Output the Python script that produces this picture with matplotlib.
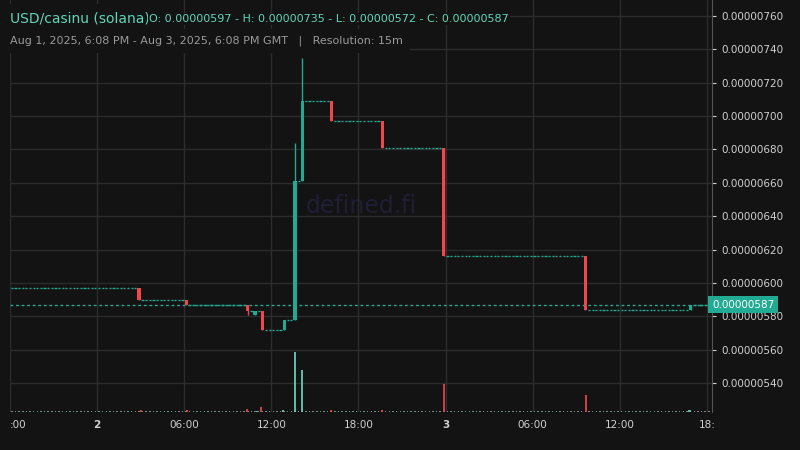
import matplotlib.pyplot as plt
import numpy as np

# hours relative to Aug 2, 00:00 GMT ; prices in units of 1e-8
ev_time = [3.0, 6.2, 10.3, 11.0, 11.3, 12.8, 13.6, 14.1, 16.1, 19.6, 23.9, 33.7, 40.8]
ev_open = [597, 590, 587, 581, 583, 572, 578, 661, 709, 697, 681, 616, 584]
ev_high = [597, 590, 587, 583, 583, 578, 684, 735, 709, 697, 681, 616, 587]
ev_low = [590, 587, 581, 581, 572, 572, 578, 661, 697, 681, 616, 584, 584]
ev_close = [590, 587, 583, 583, 572, 578, 661, 709, 697, 681, 616, 584, 587]
ev_vol = [1.5, 1.5, 2.5, 1.0, 5.0, 1.5, 59, 41, 2.0, 2.0, 28, 17, 1.5]
start_price = 597
last_price = 587

t_start, t_end = -5.87, 42.35
yticks = list(range(540, 761, 20))
xtick_pos = [-6, 0, 6, 12, 18, 24, 30, 36, 42]
xtick_lab = [":00", "2", "06:00", "12:00", "18:00", "3", "06:00", "12:00", "18:"]

bg = "#131313"
green = "#22ab94"
red = "#f0474f"
grid = "#2c2c2c"

fig = plt.figure(figsize=(8, 4.5), dpi=100, facecolor=bg)
ax = fig.add_axes([10/800, 38/450, 702/800, 412/450], facecolor=bg)
ax.set_xlim(t_start, t_end)
ax.set_ylim(522.6, 769.6)

# 15 minute slots: flat (doji) candles between the moving ones
slots = np.arange(t_start, t_end, 0.25)
price = start_price
ei = 0
w = 0.25 * 0.6
for t in slots:
    if ei < len(ev_time) and t >= ev_time[ei] - 0.125:
        o, h, l, c = ev_open[ei], ev_high[ei], ev_low[ei], ev_close[ei]
        col = green if c >= o else red
        ax.vlines(t, l, h, color=col, lw=1, zorder=3)
        ax.bar(t, max(abs(c - o), 0.6), bottom=min(o, c), width=0.22,
               color=col, zorder=3)
        price = c
        ei += 1
    else:
        ax.hlines(price, t - w / 2, t + w / 2, color=green, lw=1, zorder=3)

# volume
vax = ax.twinx()
vax.set_ylim(0, 59 / 60 * 412)
vax.set_xlim(t_start, t_end)
vax.bar(slots, 0.6, width=0.1, color="#7a8a88", zorder=1)
vcols = ["#6fd6c0" if c >= o else red for o, c in zip(ev_open, ev_close)]
vax.bar(ev_time, ev_vol, width=0.14, color=vcols, alpha=0.85, zorder=1)
vax.axis("off")

ax.axhline(last_price, color=green, lw=1, ls=(0, (2, 2)), zorder=2)

ax.set_yticks(yticks)
ax.set_yticklabels([f"0.00000{v}" for v in yticks])
ax.yaxis.tick_right()
ax.set_xticks(xtick_pos)
ax.set_xticklabels(xtick_lab)
for lab, txt in zip(ax.get_xticklabels(), xtick_lab):
    if len(txt) == 1:
        lab.set_fontweight("bold")
ax.get_xticklabels()[0].set_horizontalalignment("left")
ax.tick_params(colors="#d0d0d0", labelsize=7.5, length=3)
ax.tick_params(axis="x", length=0, pad=6)
ax.grid(True, color=grid, lw=1)
for s in ax.spines.values():
    s.set_visible(False)
ax.spines["right"].set_visible(True)
ax.spines["right"].set_color("#555555")

ax.text(0.5, 0.5, "defined.fi", transform=ax.transAxes, ha="center", va="center",
        fontsize=17, color="#1f1e36", zorder=0)

ax.text(1.0, last_price, "0.00000587", transform=ax.get_yaxis_transform(),
        ha="left", va="center", fontsize=7.5, color="white", zorder=5,
        bbox=dict(boxstyle="square,pad=0.35", fc=green, ec="none"), clip_on=False)

fig.text(10/800, 1 - 19/450, "USD/casinu (solana)", color="#5fd6b8", fontsize=10,
         va="center", bbox=dict(fc=bg, ec="none", pad=6))
fig.text(149/800, 1 - 19/450, "O: 0.00000597 - H: 0.00000735 - L: 0.00000572 - C: 0.00000587",
         color="#5fd6b8", fontsize=8, va="center", bbox=dict(fc=bg, ec="none", pad=1))
fig.text(10/800, 1 - 41/450, "Aug 1, 2025, 6:08 PM - Aug 3, 2025, 6:08 PM GMT   |   Resolution: 15m",
         color="#9a9a9a", fontsize=8, va="center", bbox=dict(fc=bg, ec="none", pad=5))

fig.savefig("out.png", dpi=100, facecolor=bg)
